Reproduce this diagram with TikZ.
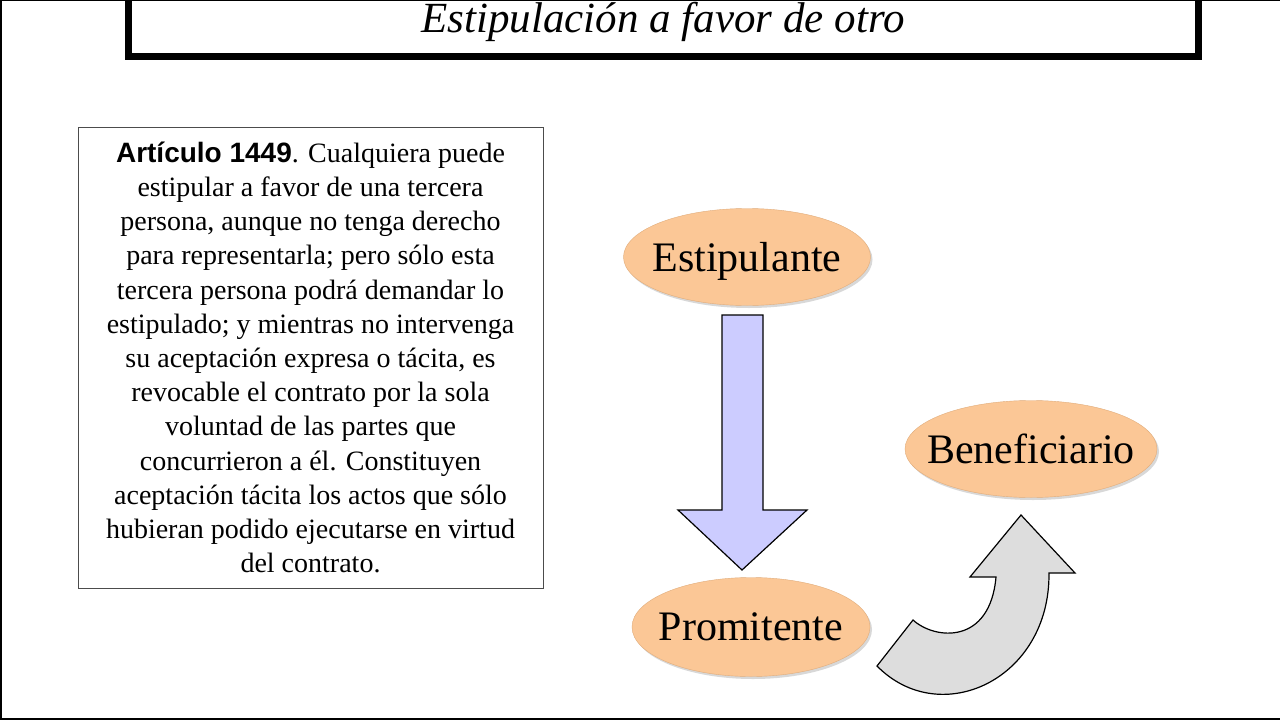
\documentclass[tikz,border=0pt]{standalone}
\usepackage{fontspec}
\setmainfont{Liberation Serif}
\newfontfamily\artfont{Liberation Sans}
\usepackage{xcolor}
\usepackage{tikz}
\usetikzlibrary{shapes.geometric,shadows}
\usetikzlibrary{positioning}

\definecolor{peach}{RGB}{251,199,150}
\definecolor{peachrim}{RGB}{225,172,122}
\definecolor{lavender}{RGB}{204,204,255}
\definecolor{arrowgray}{RGB}{221,221,221}

\tikzset{
  party/.style={ellipse,fill=peach,draw=peachrim,inner xsep=-20pt,inner ysep=0pt,
    text depth=0pt,
    drop shadow={shadow xshift=2pt,shadow yshift=-2.5pt,opacity=0.3},
    font=\fontsize{42}{46}\selectfont},
  blockarrow/.style={draw=black,line width=1.2pt,line join=miter}
}

\begin{document}
\begin{tikzpicture}[x=1pt,y=-1pt]
\useasboundingbox (0,0) rectangle (1280,720);
\fill[white] (0,0) rectangle (1280,720);
% frame of the slide
\draw[line width=2pt] (1,0) to (1,720);
\draw[line width=1pt] (0,0.5) to (1280,0.5);
\draw[line width=2pt] (0,718.5) to (1280,718.5);

% title
\draw[line width=7pt] (128.5,-10) rectangle (1198.5,56.5);
\node[anchor=base,font=\fontsize{43}{47}\selectfont\itshape] (title) at (663,32) {Estipulación a favor de otro};

% article text
\node[draw=black!70,line width=0.8pt,minimum width=465,minimum height=461,
  align=center,inner sep=0pt,font=\fontsize{28}{34.2}\selectfont] (art) at (310.5,357.5)
{{\artfont\bfseries Artículo 1449}. Cualquiera puede\\
estipular a favor de una tercera\\
persona, aunque no tenga derecho\\
para representarla; pero sólo esta\\
tercera persona podrá demandar lo\\
estipulado; y mientras no intervenga\\
su aceptación expresa o tácita, es\\
revocable el contrato por la sola\\
voluntad de las partes que\\
concurrieron a él. Constituyen\\
aceptación tácita los actos que sólo\\
hubieran podido ejecutarse en virtud\\
del contrato.};

% the three parties
\node[party,minimum width=247,minimum height=97] (estip) at (747,257) {Estipulante};
\node[party,minimum width=238,minimum height=99] (promi) at (751,627) {Promitente};
\node[party,minimum width=252,minimum height=97] (benef) at (1031,449) {Beneficiario};

% down arrow
\draw[blockarrow,fill=lavender] (722,315) to (763,315) to (763,510) to (807,510)
  to (742,570) to (678,510) to (722,510) to cycle;

% curved arrow
\draw[blockarrow,fill=arrowgray] (877,666) to (913,620)
  .. controls (935,640) and (990,645) .. (996,577)
  to (970,577) to (1021,515) to (1075,573) to (1049,573)
  .. controls (1050,680) and (940,730) .. (877,666) -- cycle;
\end{tikzpicture}
\end{document}
